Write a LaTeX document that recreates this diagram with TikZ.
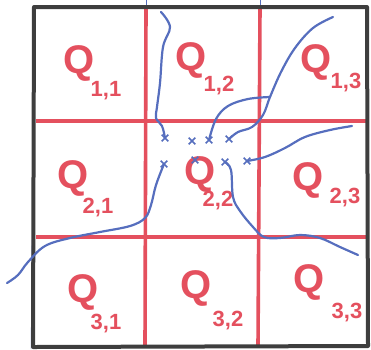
\documentclass[tikz,border=0pt]{standalone}
\usepackage{fontspec}
\setmainfont{Liberation Sans}
\usetikzlibrary{shapes.misc}
\definecolor{gridred}{RGB}{228,80,94}
\definecolor{penblue}{RGB}{86,110,190}
\definecolor{framegray}{RGB}{62,62,62}
\tikzset{
  qlabel/.style={text=gridred, font=\fontsize{40}{40}\selectfont\bfseries, inner sep=0pt},
  qindex/.style={text=gridred, font=\fontsize{22}{22}\selectfont\bfseries, inner sep=0pt},
  cut/.style={draw=penblue, cross out, line width=1.6pt, minimum size=5pt, inner sep=0pt},
  curve/.style={draw=penblue, line width=2.2pt, line cap=round, line join=round},
  gridline/.style={draw=gridred, line width=3.6pt},
}
\begin{document}
\begin{tikzpicture}[x=1pt, y=-1pt]
  \useasboundingbox (0,0) rectangle (371,349);

  % thin ink traces
  \draw[penblue, thin] (146,0) -- (146,10);
  \draw[penblue, thin] (260,0) -- (260,10);
  \draw[penblue, thin] (32,240) -- (31,349);

  % red grid
  \draw[gridline] (36,121) -- (368,121);
  \draw[gridline] (36,237) -- (366,237);
  \draw[gridline] (146,8) -- (145,346);
  \draw[gridline] (260,8) -- (258,346);

  % outer frame
  \draw[framegray, line width=4pt, line join=round] (34,7) -- (367,7) -- (368,346) -- (33,347) -- cycle;

  % cell labels
  \node[qlabel] (q11) at (79,63) {Q};   \node[qindex] (s11) at (106,91) {1,1};
  \node[qlabel] (q12) at (191,60) {Q};  \node[qindex] (s12) at (219,86) {1,2};
  \node[qlabel] (q13) at (316,62) {Q};  \node[qindex] (s13) at (346,83) {1,3};
  \node[qlabel] (q21) at (73,178) {Q};  \node[qindex] (s21) at (98,208) {2,1};
  \node[qlabel] (q22) at (200,174) {Q}; \node[qindex] (s22) at (218,201) {2,2};
  \node[qlabel] (q23) at (308,180) {Q}; \node[qindex] (s23) at (345,198) {2,3};
  \node[qlabel] (q31) at (83,292) {Q};  \node[qindex] (s31) at (106,324) {3,1};
  \node[qlabel] (q32) at (196,288) {Q}; \node[qindex] (s32) at (228,321) {3,2};
  \node[qlabel] (q33) at (309,282) {Q}; \node[qindex] (s33) at (347,313) {3,3};

  % crosses round the middle cell
  \node[cut] (c1) at (165,138) {};
  \node[cut] (c2) at (192,141) {};
  \node[cut] (c3) at (209,140) {};
  \node[cut] (c4) at (229,139) {};
  \node[cut] (c5) at (164,164) {};
  \node[cut] (c6) at (195,160) {};
  \node[cut] (c7) at (225,162) {};
  \node[cut] (c8) at (247,161) {};

  % free ends of the curves
  \coordinate (topin) at (161,12);
  \coordinate (corner) at (333,17);
  \coordinate (split) at (270,97);
  \coordinate (rightin) at (352,126);
  \coordinate (leftin) at (7,283);
  \coordinate (rightout) at (358,255);

  % blue curves
  \draw[curve] plot[smooth, tension=0.6] coordinates {(topin) (170,27) (163,47) (160,83) (157,107) (156,118) (162,126) (c1)};
  \draw[curve] plot[smooth, tension=0.6] coordinates {(corner) (313,28) (295,48) (281,72) (split) (263,115) (252,127) (238,132) (c4)};
  \draw[curve] plot[smooth, tension=0.6] coordinates {(split) (248,99) (228,106) (216,119) (c3)};
  \draw[curve] plot[smooth, tension=0.6] coordinates {(rightin) (330,130) (305,137) (285,148) (265,157) (c8)};
  \draw[curve] plot[smooth, tension=0.6] coordinates {(leftin) (18,275) (28,262) (45,246) (70,238) (100,232) (130,226) (145,218) (151,205) (156,185) (c5)};
  \draw[curve] plot[smooth, tension=0.6] coordinates {(c7) (231,170) (233,197) (240,211) (253,227) (264,237) (280,238) (300,235) (320,238) (340,247) (rightout)};
\end{tikzpicture}
\end{document}
